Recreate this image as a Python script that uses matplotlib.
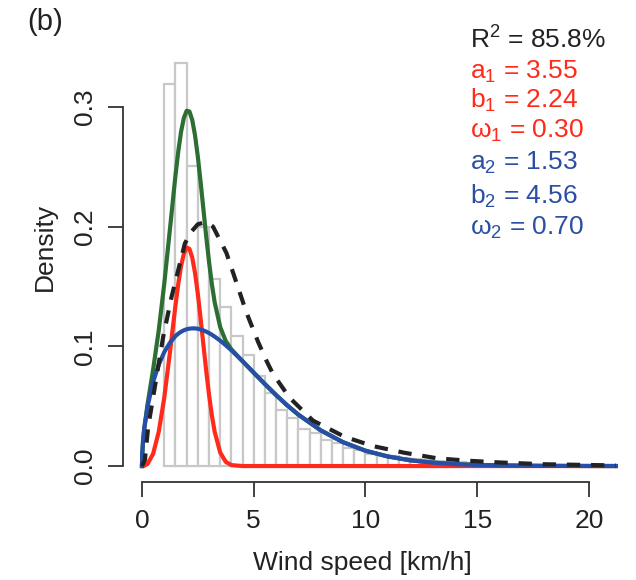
import matplotlib.pyplot as plt
import numpy as np

plt.rcParams['font.family'] = ['Liberation Sans', 'DejaVu Sans']

# histogram of wind speed, 0.5 km/h bins starting at 1 km/h
bin_start = 1.0
bin_width = 0.5
hist_density = [0.319, 0.337, 0.251, 0.200, 0.156, 0.133, 0.109, 0.093,
                0.075, 0.061, 0.047, 0.040, 0.031, 0.028, 0.022, 0.019,
                0.015, 0.013, 0.010, 0.009, 0.008, 0.007, 0.006, 0.005,
                0.004, 0.0035, 0.003, 0.0025, 0.002, 0.0015, 0.001, 0.001,
                0.0008]

# fitted densities
curve_x = [0, 0.01, 0.05, 0.1, 0.25, 0.5, 0.75, 1.0, 1.25, 1.5, 1.625, 1.75,
           1.875, 2.0, 2.125, 2.25, 2.375, 2.5, 2.625, 2.75, 2.875, 3.0,
           3.125, 3.25, 3.5, 3.75, 4.0, 4.5, 5, 5.5, 6, 6.5, 7, 8, 9, 10, 11,
           12, 13, 14, 15, 16, 18, 21.2]
comp1 = [0, 0, 0, 0.0002, 0.0018, 0.0103, 0.0286, 0.0574, 0.0947, 0.1344,
         0.1523, 0.1671, 0.1775, 0.1825, 0.1814, 0.1741, 0.1612, 0.1437,
         0.1230, 0.1011, 0.0795, 0.0596, 0.0426, 0.0289, 0.0113, 0.0035,
         0.0008, 0, 0, 0, 0, 0, 0, 0, 0, 0, 0, 0, 0, 0, 0, 0, 0, 0]
comp2 = [0, 0.0092, 0.0215, 0.0309, 0.0498, 0.0704, 0.0847, 0.0953, 0.1030,
         0.1086, 0.1106, 0.1122, 0.1134, 0.1143, 0.1148, 0.1150, 0.1150,
         0.1147, 0.1141, 0.1133, 0.1123, 0.1111, 0.1097, 0.1082, 0.1048,
         0.1009, 0.0967, 0.0876, 0.0780, 0.0685, 0.0593, 0.0507, 0.0429,
         0.0298, 0.0199, 0.0128, 0.0080, 0.0048, 0.0029, 0.0016, 0.0009,
         0.0005, 0.00014, 0.00002]
mixture = [0, 0.0092, 0.0215, 0.0311, 0.0516, 0.0807, 0.1133, 0.1527, 0.1977,
           0.2430, 0.2629, 0.2793, 0.2909, 0.2968, 0.2962, 0.2891, 0.2762,
           0.2584, 0.2371, 0.2144, 0.1917, 0.1707, 0.1523, 0.1371, 0.1161,
           0.1044, 0.0975, 0.0876, 0.0780, 0.0685, 0.0593, 0.0507, 0.0429,
           0.0298, 0.0199, 0.0128, 0.0080, 0.0048, 0.0029, 0.0016, 0.0009,
           0.0005, 0.00014, 0.00002]

# single-distribution fit (dashed)
dash_x = [0, 0.13, 0.28, 0.95, 1.32, 1.92, 2.22, 2.5, 2.89, 3.18, 3.78, 4.23,
          4.68, 5.19, 5.57, 5.86, 6.61, 7.65, 9.06, 10.33, 11.74, 13.23,
          14.64, 16.0, 18.0, 21.2]
dash_y = [0, 0.005, 0.033, 0.108, 0.141, 0.186, 0.196, 0.202, 0.204, 0.200,
          0.178, 0.153, 0.128, 0.104, 0.088, 0.077, 0.057, 0.038, 0.0245,
          0.0167, 0.0111, 0.0064, 0.0044, 0.0030, 0.0015, 0.0005]

fit_text = [r'$\mathregular{R^2}$ = 85.8%', r'$\mathregular{a_1}$ = 3.55',
            r'$\mathregular{b_1}$ = 2.24', r'$\mathregular{\omega_1}$ = 0.30',
            r'$\mathregular{a_2}$ = 1.53', r'$\mathregular{b_2}$ = 4.56',
            r'$\mathregular{\omega_2}$ = 0.70']
fit_colors = ['#222222', '#ff2a1a', '#ff2a1a', '#ff2a1a',
              '#2a4fa3', '#2a4fa3', '#2a4fa3']

red = '#ff2a1a'
blue = '#2650a8'
green = '#2d6e32'

fig = plt.figure(figsize=(6.36, 5.8), dpi=100)
ax = fig.add_axes([0.1937, 0.1684, 0.797, 0.7578])

lefts = bin_start + bin_width * np.arange(len(hist_density))
ax.bar(lefts, hist_density, width=bin_width, align='edge', color='white',
       edgecolor='#c8c8c8', linewidth=1.6, zorder=1)

ax.plot(curve_x, mixture, color=green, lw=3, zorder=2)
ax.plot(curve_x, comp1, color=red, lw=3, zorder=3)
ax.plot(curve_x, comp2, color=blue, lw=3, zorder=4)
ax.plot(dash_x, dash_y, color='#222222', lw=3, ls=(0, (3.2, 2.6)), zorder=5)

ax.set_xlim(-0.84, 21.84)
ax.set_ylim(-0.0136, 0.3536)
ax.set_xticks([0, 5, 10, 15, 20])
ax.set_yticks([0.0, 0.1, 0.2, 0.3])
ax.set_yticklabels(['0.0', '0.1', '0.2', '0.3'], rotation=90, va='center')
for s in ['top', 'right']:
    ax.spines[s].set_visible(False)
ax.spines['left'].set_bounds(0, 0.3)
ax.spines['bottom'].set_bounds(0, 20)
for s in ['left', 'bottom']:
    ax.spines[s].set_color('#333333')
    ax.spines[s].set_linewidth(1.3)
ax.tick_params(length=11, width=1.3, color='#333333', labelsize=19,
               labelcolor='#222222', pad=8)

fig.text(45 / 636, 1 - 247 / 580, 'Density', rotation=90, fontsize=19,
         ha='center', va='center', color='#222222')
fig.text(362 / 636, 1 - 563 / 580, 'Wind speed [km/h]', fontsize=19,
         ha='center', va='center', color='#222222')
fig.text(45 / 636, 1 - 22 / 580, '(b)', fontsize=21, ha='center',
         va='center', color='#222222')

line_y = [40, 72, 100, 131, 163, 196, 228]
for txt, col, yy in zip(fit_text, fit_colors, line_y):
    fig.text(470 / 636, 1 - yy / 580, txt, fontsize=19, color=col,
             ha='left', va='center')

fig.savefig('out.png', dpi=100)
